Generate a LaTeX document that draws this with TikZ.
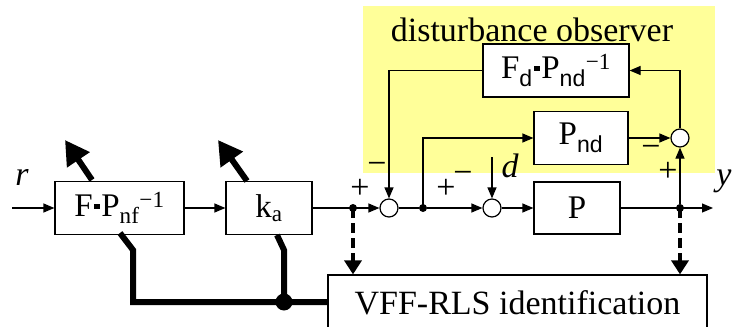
\documentclass[tikz,border=0pt]{standalone}
\usepackage{fontspec}
\setmainfont{Liberation Serif}
\newfontfamily\subsans{Liberation Sans}
\usetikzlibrary{arrows.meta}
\definecolor{obsyellow}{RGB}{255,255,153}
\newcommand\sqdot{\hspace{0.05em}\raisebox{0.22em}{\rule{0.16em}{0.16em}}\hspace{0.05em}}
\newcommand\minusone{\textsuperscript{\char"2212 1}}
\begin{document}
\begin{tikzpicture}[x=1pt,y=-1pt,
  blk/.style={draw, line width=1.2pt, fill=white, inner sep=0pt, font=\fontsize{33}{38}\selectfont},
  sumc/.style={draw, circle, line width=1.2pt, fill=white, minimum size=18pt, inner sep=0pt},
  jdot/.style={circle, fill=black, minimum size=8pt, inner sep=0pt},
  bigdot/.style={circle, fill=black, minimum size=17pt, inner sep=0pt},
  sig/.style={line width=1.2pt, -{Triangle[length=11pt,width=9pt]}},
  ln/.style={line width=1.2pt},
  thk/.style={line width=6pt},
  thkarr/.style={line width=6pt, -{Triangle[length=24pt,width=26pt]}},
  dsh/.style={line width=4pt, dash pattern=on 10pt off 5pt, -{Triangle[length=14pt,width=17pt]}},
  lab/.style={font=\fontsize{34}{38}\selectfont, inner sep=0pt},
]
\useasboundingbox (0,0) rectangle (732,327);
\clip (0,0) rectangle (732,327);
% observer background
\fill[obsyellow] (363,6) rectangle (715,173);
\node[lab] (title) at (532,30) {disturbance observer};

% blocks
\node[blk, minimum width=129pt, minimum height=53pt] (F) at (119.5,208) {F\sqdot P\textsubscript{nf}\minusone};
\node[blk, minimum width=86pt, minimum height=53pt] (K) at (269,208) {k\textsubscript{a}};
\node[blk, minimum width=86pt, minimum height=52pt] (P) at (577,208) {P};
\node[blk, minimum width=94pt, minimum height=53pt] (Pnd) at (581,138) {P\textsubscript{\subsans nd}};
\node[blk, minimum width=146pt, minimum height=53pt] (Fd) at (556,70.5) {F\textsubscript{\subsans d}\sqdot P\textsubscript{\subsans nd}\minusone};
\node[blk, minimum width=379pt, minimum height=56pt, font=\fontsize{34}{38}\selectfont] (vff) at (517.5,303) {VFF-RLS identification};

% summing points and junctions
\node[sumc] (c1) at (389,208) {};
\node[sumc] (c2) at (492,208) {};
\node[sumc] (c3) at (680,138) {};
\node[jdot] (j1) at (353,208) {};
\node[jdot] (j2) at (423,208) {};
\node[jdot] (j3) at (680,208) {};
\node[bigdot] (jb) at (284,302) {};
\coordinate (in) at (12,208);
\coordinate (out) at (713,208);
\coordinate (dstart) at (492,157);

% signal lines
\draw[sig] (in) -- (F);
\draw[sig] (F) -- (K);
\draw[sig] (K) -- (c1);
\draw[ln] (c1) -- (j2);
\draw[sig] (j2) -- (c2);
\draw[sig] (c2) -- (P);
\draw[sig] (P) -- (out);
\draw[sig] (j2.center) |- (Pnd);
\draw[sig] (Pnd) -- (c3);
\draw[sig] (j3) -- (c3);
\draw[sig] (c3) |- (Fd);
\draw[sig] (Fd) -| (c1);
\draw[sig] (dstart) -- (c2);

% adaptive (thick) arrows
\coordinate (fa0) at (92,180);
\coordinate (fa1) at (65,140);
\coordinate (ka0) at (247,181);
\coordinate (ka1) at (218,140);
\draw[thkarr] (fa0) -- (fa1);
\draw[thkarr] (ka0) -- (ka1);
\coordinate (fb0) at (120,233);
\coordinate (fb1) at (133,250);
\coordinate (fb2) at (133,302);
\coordinate (kb0) at (277,235);
\coordinate (kb1) at (284,250);
\draw[thk] (fb0) -- (fb1) -- (fb2) -- (vff.west |- fb2);
\draw[thk] (kb0) -- (kb1) -- (jb.center);

% dashed measurement arrows
\draw[dsh] (j1.center) -- (j1 |- vff.north);
\draw[dsh] (j3.center) -- (j3 |- vff.north);

% labels
\node[lab, font=\fontsize{34}{38}\selectfont\itshape] (rl) at (22,177) {r};
\node[lab, font=\fontsize{34}{38}\selectfont\itshape] (dl) at (510,166) {d};
\node[lab, font=\fontsize{34}{38}\selectfont\itshape] (yl) at (724,181) {y};
\node[lab] (m1) at (377,168) {\char"2212};
\node[lab] (p1) at (360,189) {+};
\node[lab] (p2) at (446,189) {+};
\node[lab] (m2) at (463,177) {\char"2212};
\node[lab] (m3) at (651,151) {\char"2212};
\node[lab] (p3) at (668,172) {+};
\end{tikzpicture}
\end{document}
